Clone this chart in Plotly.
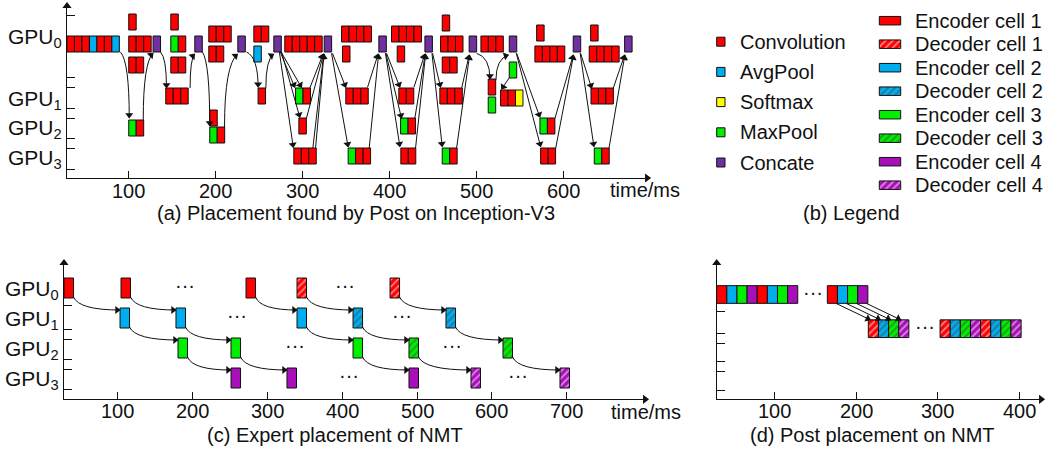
import math
import plotly.graph_objects as go

W, H = 1050, 450
FONT = "Liberation Sans, Arial, Helvetica, sans-serif"
INK = "#111111"

OP_COLOR = {"R": "#FF0000", "B": "#00ADEF", "Y": "#FFFF00", "G": "#00EE00",
            "C": "#7030A0", "P": "#A80FB8"}
HATCH_COLOR = {"R": "#FFB0B0", "B": "#0A4F80", "G": "#007A00", "P": "#F0A8F0",
               "Y": "#FFFFFF", "C": "#FFFFFF"}

# ---------------- (a) Placement found by Post on Inception-V3 ----------------
# op groups: start time (ms), lane height, op sequence
a_start = [29.2, 100.2, 100.2, 100.2, 100.2, 128.2, 148.6, 148.6, 148.6, 142.8,
           176.2, 192.3, 192.3, 193.4, 193.4, 225.7, 244.1, 244.1, 249.0, 267.1,
           279.7, 325.0, 292.1, 295.9, 290.1, 345.0, 346.1, 349.9, 352.6, 387.9,
           402.5, 409.0, 410.9, 412.9, 413.2, 440.9, 460.8, 458.9, 460.8, 458.1,
           460.8, 491.8, 505.3, 537.9, 513.7, 513.7, 537.9, 527.9, 569.4, 567.4,
           573.2, 574.0, 611.5, 631.5, 629.9, 631.9, 635.7, 670.6]
a_lane = [134, 156, 134, 113, 50, 134, 156, 134, 113, 82,
          134, 144, 124, 60, 43, 134, 144, 124, 82, 134,
          134, 134, 82, 52, 22, 144, 124, 82, 22, 134,
          144, 124, 82, 52, 22, 134, 155, 134, 113, 82,
          22, 134, 134, 134, 91, 73, 108, 80, 145, 124,
          52, 22, 134, 145, 124, 82, 22, 134]
a_ops = ["RRRBRRB", "R", "RRR", "RR", "GR", "C", "R", "GR", "RR", "RRR",
         "C", "RRR", "RR", "R", "GR", "C", "RR", "B", "R", "C",
         "RRRRR", "C", "GR", "R", "RRR", "RRRR", "R", "RRR", "GRR", "C",
         "RRRR", "R", "RR", "GR", "RR", "C", "R", "RRR", "RR", "RRR",
         "GR", "C", "RRR", "C", "R", "G", "G", "RRY", "R", "RRRR",
         "GR", "RR", "C", "R", "RRRR", "RRR", "GR", "C"]
A_BOX_MS, A_BOX_H = 8.6, 16

# data-flow arrows: from (x0, y0) to (x1, y1); kind d/u = curved down/up, s = straight
a_arr_x0 = [90.7, 116.9, 136.7, 170.8, 185.0, 210.4, 235.7, 257.9,
            274.5, 275.5, 276.0, 273.5, 308.5, 304.7, 315.1, 312.0,
            334.6, 333.5, 374.9, 376.8, 396.8, 396.0, 395.5,
            428.2, 429.3, 430.1, 449.7, 449.0, 483.1, 477.3,
            500.3, 522.6, 537.9, 546.4, 546.0, 590.5, 591.3,
            620.0, 619.5, 657.5, 652.6]
a_arr_y0 = [126, 58, 126, 90, 126, 51, 126, 89.7,
            126, 126, 126, 126, 90, 60, 30, 30,
            124.7, 124.7, 90.7, 29.7, 124.7, 124.7, 124.7,
            90.7, 59.7, 29.7, 124.7, 124.7, 89.7, 29.7,
            124.7, 98, 100.3, 124.7, 124.7, 59.7, 29.7,
            124.7, 124.7, 89.7, 29.7]
a_arr_x1 = [100.8, 128.2, 143.6, 176.0, 193.4, 225.5, 249.0, 267.0,
            291.3, 299.0, 297.0, 289.5, 323.8, 324.3, 324.8, 324.5,
            349.9, 352.6, 387.1, 387.6, 412.1, 414.0, 412.1,
            440.9, 441.3, 441.7, 458.9, 460.8, 491.8, 492.3,
            515.7, 537.0, 529.1, 573.2, 574.0, 611.5, 611.9,
            632.7, 635.3, 670.6, 670.9]
a_arr_y1 = [60, 125, 90, 124, 52, 124, 90.7, 124,
            90.5, 90.5, 60.5, 30.5, 124, 124, 124, 124,
            90.5, 31, 124, 124, 90.7, 59.7, 31.3,
            124, 124, 124, 90.7, 31.3, 123, 123,
            99, 123, 88.7, 60.7, 31.3, 123, 123,
            89.7, 31.3, 123, 123]
a_arr_kind = ["d", "u", "d", "u", "d", "u", "d", "u",
              "s", "s", "s", "s", "s", "s", "s", "s",
              "s", "s", "s", "s", "s", "s", "s",
              "s", "s", "s", "s", "s", "s", "s",
              "d", "u", "s", "s", "s", "s", "s",
              "s", "s", "s", "s"]
a_xticks = [100, 200, 300, 400, 500, 600]
a_yticks = [163, 101, 91, 70, 60, 40, 30, 9]
a_gpu_y = [140, 78, 49, 19]

# ---------------- (c) Expert placement of NMT ----------------
c_start = [[28.7, 104.8, 271.7, 339.8, 464.0],
           [103.5, 178.2, 339.8, 414.6, 538.7],
           [180.9, 251.7, 414.6, 489.3, 614.8],
           [251.7, 326.4, 489.3, 572.1, 690.9]]
c_op = ["R", "B", "G", "P"]
c_hatch = [0, 0, 0, 1, 1]
c_row_y = [111.3, 81.3, 51.3, 21.3]
C_BOX_MS, C_BOX_H = 12.7, 20
c_dot_x = [190.3, 403.9, 259.7, 480.0, 337.1, 546.7, 409.2, 634.8]
c_dot_gpu = [0, 0, 1, 1, 2, 2, 3, 3]
c_xticks = [100, 200, 300, 400, 500, 600, 700]
c_yticks = [94.3, 70.3, 60, 40, 30, 10]

# ---------------- (d) Post placement on NMT ----------------
d_start = [29.4, 164.8, 215.0, 302.8]
d_row = [0, 0, 1, 1]
d_ops = ["RBGPRBGP", "RBGP", "RBGP", "RBGPRBGP"]
d_hatch = [0, 0, 1, 1]
d_row_y = [104.8, 70.6]
D_BOX_MS, D_BOX_H = 12.4, 17.7
d_dot_x = [147.3, 284.5]
d_dot_row = [0, 1]
d_xticks = [100, 200, 300, 400]
d_yticks = [87.6, 66, 56, 37.6, 27.6, 8.6]

# ---------------- (b) Legend ----------------
leg_left_names = ["Convolution", "AvgPool", "Softmax", "MaxPool", "Concate"]
leg_left_ops = ["R", "B", "Y", "G", "C"]
leg_right_names = ["Encoder cell 1", "Decoder cell 1", "Encoder cell 2", "Decoder cell 2",
                   "Encoder cell 3", "Decoder cell 3", "Encoder cell 4", "Decoder cell 4"]
leg_right_ops = ["R", "R", "B", "B", "G", "G", "P", "P"]
leg_right_hatch = [0, 1, 0, 1, 0, 1, 0, 1]

GPU_NAMES = ["GPU<sub>0</sub>", "GPU<sub>1</sub>", "GPU<sub>2</sub>", "GPU<sub>3</sub>"]

# pixel scale of each panel (px per data unit) used to orient arrow heads
SCALE = {"x": 0.869, "x2": 0.749, "x3": 0.8165}


def px_x(p):
    return p / W


def px_y(p):
    return 1 - p / H


def box_trace(xs, ys, ops, hatched, w, h, xa, ya):
    n = len(xs)
    return go.Bar(
        orientation="h", base=xs, x=[w] * n, y=ys, width=[h] * n,
        marker=dict(color=[OP_COLOR[o] for o in ops],
                    line=dict(color=INK, width=1),
                    pattern=dict(shape=["/" if hh else "" for hh in hatched],
                                 fgcolor=[HATCH_COLOR[o] for o in ops],
                                 size=5, solidity=0.35, fillmode="overlay")),
        xaxis=xa, yaxis=ya, hoverinfo="skip", showlegend=False)


fig = go.Figure()

# ---- panel (a) boxes ----
ax_, ay_, ao_ = [], [], []
for s, l, ops in zip(a_start, a_lane, a_ops):
    for i, o in enumerate(ops):
        ax_.append(s + i * A_BOX_MS)
        ay_.append(l)
        ao_.append(o)
fig.add_trace(box_trace(ax_, ay_, ao_, [0] * len(ao_), A_BOX_MS, A_BOX_H, "x", "y"))

# ---- panel (c) boxes ----
cx_, cy_, co_, ch_ = [], [], [], []
for g in range(4):
    for k, s in enumerate(c_start[g]):
        cx_.append(s)
        cy_.append(c_row_y[g])
        co_.append(c_op[g])
        ch_.append(c_hatch[k])
fig.add_trace(box_trace(cx_, cy_, co_, ch_, C_BOX_MS, C_BOX_H, "x2", "y2"))

# ---- panel (d) boxes ----
dx_, dy_, do_, dh_ = [], [], [], []
for s, r, ops, hh in zip(d_start, d_row, d_ops, d_hatch):
    for i, o in enumerate(ops):
        dx_.append(s + i * D_BOX_MS)
        dy_.append(d_row_y[r])
        do_.append(o)
        dh_.append(hh)
fig.add_trace(box_trace(dx_, dy_, do_, dh_, D_BOX_MS, D_BOX_H, "x3", "y3"))

# ---- legend swatches (panel b) ----
LEG_LEFT_X, LEG_LEFT_W, LEG_LEFT_Y, LEG_LEFT_DY = 716.7, 8.3, 41.7, 30.2
LEG_R_X, LEG_R_W, LEG_R_Y, LEG_R_DY = 879.3, 21.4, 20.7, 23.5
ly = [LEG_LEFT_Y + i * LEG_LEFT_DY for i in range(len(leg_left_names))]
ry = [LEG_R_Y + i * LEG_R_DY for i in range(len(leg_right_names))]
fig.add_trace(box_trace([LEG_LEFT_X] * len(ly), ly, leg_left_ops, [0] * len(ly),
                        LEG_LEFT_W, 9, "x4", "y4"))
fig.add_trace(box_trace([LEG_R_X] * len(ry), ry, leg_right_ops, leg_right_hatch,
                        LEG_R_W, 8.5, "x4", "y4"))

annotations = []
shapes = []
lines = {"x": ([], []), "x2": ([], []), "x3": ([], [])}
heads = {"x": ([], [], []), "x2": ([], [], []), "x3": ([], [], [])}
HEAD_SIZE = 7


def head(tx, ty, x1, y1, xa):
    """arrow head at (x1, y1) pointing along direction from (tx, ty)."""
    k = SCALE[xa]
    dx, dy = (x1 - tx) * k, (y1 - ty)
    L = math.hypot(dx, dy) or 1.0
    ux, uy = dx / L, dy / L
    ang = math.degrees(math.atan2(ux, uy))
    back = HEAD_SIZE * 0.42
    hx, hy, ha = heads[xa]
    hx.append(x1 - back * ux / k)
    hy.append(y1 - back * uy)
    ha.append(ang)


def straight(x0, y0, x1, y1, xa):
    lx, ly_ = lines[xa]
    lx += [x0, x1, None]
    ly_ += [y0, y1, None]
    head(x0, y0, x1, y1, xa)


def curve(x0, y0, cx, cy, x1, y1, xa, ya):
    shapes.append(dict(type="path", path=f"M {x0},{y0} Q {cx},{cy} {x1},{y1}",
                       xref=xa, yref=ya, line=dict(color=INK, width=1), layer="above"))
    head(cx, cy, x1, y1, xa)


# ---- panel (a) arrows ----
for x0, y0, x1, y1, k in zip(a_arr_x0, a_arr_y0, a_arr_x1, a_arr_y1, a_arr_kind):
    if k == "d":
        curve(x0, y0, x1, y0 - 0.15 * (y0 - y1), x1, y1, "x", "y")
    elif k == "u":
        curve(x0, y0, x0, y0 + 0.85 * (y1 - y0), x1, y1, "x", "y")
    else:
        straight(x0, y0, x1, y1, "x")

# ---- panel (c) arrows ----
for g in range(3):
    for k in range(5):
        xs = c_start[g][k] + C_BOX_MS
        ys = c_row_y[g] - C_BOX_H / 2 + 1
        xt = c_start[g + 1][k]
        yt = c_row_y[g + 1] + C_BOX_H / 2 - 2
        curve(xs, ys, xs + 0.12 * (xt - xs), yt, xt, yt, "x2", "y2")

# ---- panel (d) arrows ----
for i in range(4):
    xs = d_start[1] + (i + 0.85) * D_BOX_MS
    ys = d_row_y[0] - D_BOX_H / 2
    xt = d_start[2] + (i + 0.2) * D_BOX_MS
    yt = d_row_y[1] + D_BOX_H / 2
    straight(xs, ys, xt, yt, "x3")

for xa, ya in (("x", "y"), ("x2", "y2"), ("x3", "y3")):
    lx, ly_ = lines[xa]
    if lx:
        fig.add_trace(go.Scatter(x=lx, y=ly_, mode="lines", line=dict(color=INK, width=1),
                                 xaxis=xa, yaxis=ya, hoverinfo="skip", showlegend=False))
    hx, hy, ha = heads[xa]
    fig.add_trace(go.Scatter(x=hx, y=hy, mode="markers",
                             marker=dict(symbol="triangle-up", size=HEAD_SIZE, angle=ha,
                                         color=INK, line=dict(width=0)),
                             xaxis=xa, yaxis=ya, hoverinfo="skip", showlegend=False))

# ---- dots ----
for x, g in zip(c_dot_x, c_dot_gpu):
    annotations.append(dict(x=x, y=c_row_y[g] + 3, xref="x2", yref="y2", text="···",
                            showarrow=False, font=dict(family=FONT, size=20, color=INK)))
for x, r in zip(d_dot_x, d_dot_row):
    annotations.append(dict(x=x, y=d_row_y[r] + 3, xref="x3", yref="y3", text="···",
                            showarrow=False, font=dict(family=FONT, size=20, color=INK)))

# ---- GPU labels ----
for name, y in zip(GPU_NAMES, a_gpu_y):
    annotations.append(dict(x=px_x(64), y=y, xref="paper", yref="y", text=name,
                            xanchor="right", yanchor="middle", showarrow=False,
                            font=dict(family=FONT, size=21, color=INK)))
for name, y in zip(GPU_NAMES, c_row_y):
    annotations.append(dict(x=px_x(61), y=y - 2, xref="paper", yref="y2", text=name,
                            xanchor="right", yanchor="middle", showarrow=False,
                            font=dict(family=FONT, size=21, color=INK)))

# ---- tick labels ----
for xa, ticks, ypix in (("x", a_xticks, 191), ("x2", c_xticks, 411), ("x3", d_xticks, 411)):
    for t in ticks:
        annotations.append(dict(x=t, y=px_y(ypix), xref=xa, yref="paper", text=str(t),
                                showarrow=False, xanchor="center", yanchor="middle",
                                font=dict(family=FONT, size=20, color=INK)))

# ---- legend text ----
for name, y in zip(leg_left_names, ly):
    annotations.append(dict(x=738, y=y, xref="x4", yref="y4", text=name, xanchor="left",
                            yanchor="middle", showarrow=False,
                            font=dict(family=FONT, size=20, color=INK)))
for name, y in zip(leg_right_names, ry):
    annotations.append(dict(x=913, y=y, xref="x4", yref="y4", text=name, xanchor="left",
                            yanchor="middle", showarrow=False,
                            font=dict(family=FONT, size=20, color=INK)))

# ---- captions / axis titles ----
captions = [("(a) Placement found by Post on Inception-V3", 356, 213),
            ("(b) Legend", 851, 213),
            ("(c) Expert placement of NMT", 335, 435),
            ("(d) Post placement on NMT", 872, 435),
            ("time/ms", 645, 190),
            ("time/ms", 646, 412)]
for txt, x, y in captions:
    annotations.append(dict(x=px_x(x), y=px_y(y), xref="paper", yref="paper", text=txt,
                            showarrow=False, xanchor="center", yanchor="middle",
                            font=dict(family=FONT, size=20, color=INK)))

# ---- axis arrow heads (paper coordinates) ----
axis_tip_x = [650 / W, 67 / W, 648 / W, 64 / W, 1044 / W, 716.7 / W]
axis_tip_y = [px_y(178), px_y(3), px_y(399.3), px_y(260), px_y(399.3), px_y(260)]
axis_tip_ang = [90, 0, 90, 0, 90, 0]
fig.add_trace(go.Scatter(
    x=[t - (0.0028 if a == 90 else 0) for t, a in zip(axis_tip_x, axis_tip_ang)],
    y=[t - (0.0065 if a == 0 else 0) for t, a in zip(axis_tip_y, axis_tip_ang)],
    mode="markers", marker=dict(symbol="triangle-up", size=8, angle=axis_tip_ang, color=INK),
    xaxis="x5", yaxis="y5", hoverinfo="skip", showlegend=False))


def xstyle(dom, rng, ticks, anchor):
    return dict(domain=dom, range=rng, anchor=anchor, showline=True, linecolor=INK,
                linewidth=1, ticks="inside", tickcolor=INK, ticklen=7, tickwidth=1,
                tickvals=ticks, showticklabels=False, showgrid=False, zeroline=False,
                fixedrange=True)


def ystyle(dom, rng, ticks, anchor):
    return dict(domain=dom, range=rng, anchor=anchor, showline=True, linecolor=INK,
                linewidth=1, ticks="inside", tickcolor=INK, ticklen=8, tickwidth=1,
                tickvals=ticks, showticklabels=False, showgrid=False, zeroline=False,
                fixedrange=True)


fig.update_layout(
    width=W, height=H, margin=dict(l=0, r=0, t=0, b=0),
    paper_bgcolor="white", plot_bgcolor="rgba(0,0,0,0)",
    barmode="overlay", showlegend=False,
    font=dict(family=FONT, color=INK),
    xaxis=xstyle([px_x(67), px_x(650)], [29.2, 699.8], a_xticks, "y"),
    yaxis=ystyle([px_y(178), px_y(3)], [0, 175], a_yticks, "x"),
    xaxis2=xstyle([px_x(64), px_x(648)], [28.7, 808.4], c_xticks, "y2"),
    yaxis2=ystyle([px_y(399.3), px_y(260)], [0, 139.3], c_yticks, "x2"),
    xaxis3=xstyle([px_x(716.7), px_x(1044)], [29.4, 430.0], d_xticks, "y3"),
    yaxis3=ystyle([px_y(399.3), px_y(260)], [0, 139.3], d_yticks, "x3"),
    xaxis4=dict(domain=[px_x(693), 1.0], range=[693, 1050], anchor="y4", visible=False,
                fixedrange=True),
    yaxis4=dict(domain=[px_y(225), 1.0], range=[225, 0], anchor="x4", visible=False,
                fixedrange=True),
    xaxis5=dict(domain=[0, 1], range=[0, 1], anchor="y5", visible=False, fixedrange=True),
    yaxis5=dict(domain=[0, 1], range=[0, 1], anchor="x5", visible=False, fixedrange=True),
    annotations=annotations, shapes=shapes,
)

fig.write_html("out.html", config={"displayModeBar": False},
               post_script="document.body.style.margin='0px';document.body.style.padding='0px';")
